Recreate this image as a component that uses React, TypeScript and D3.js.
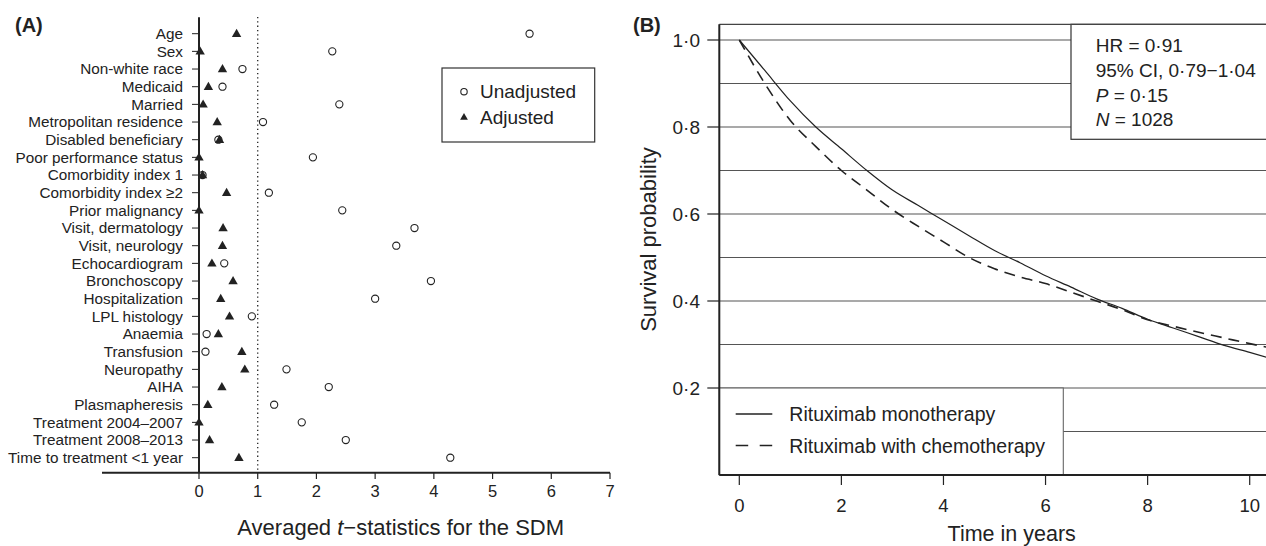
import React from 'react';
import * as d3 from 'd3';

// Panel A: balance diagnostics
const categories = [
  'Age', 'Sex', 'Non-white race', 'Medicaid', 'Married', 'Metropolitan residence',
  'Disabled beneficiary', 'Poor performance status', 'Comorbidity index 1',
  'Comorbidity index \u22652', 'Prior malignancy', 'Visit, dermatology', 'Visit, neurology',
  'Echocardiogram', 'Bronchoscopy', 'Hospitalization', 'LPL histology', 'Anaemia',
  'Transfusion', 'Neuropathy', 'AIHA', 'Plasmapheresis', 'Treatment 2004\u20132007',
  'Treatment 2008\u20132013', 'Time to treatment <1 year'
];
const unadjusted = [5.63, 2.27, 0.74, 0.40, 2.39, 1.09, 0.33, 1.94, 0.06, 1.19, 2.44, 3.67, 3.36,
  0.43, 3.95, 3.00, 0.90, 0.13, 0.11, 1.49, 2.21, 1.28, 1.75, 2.50, 4.28];
const adjusted = [0.64, 0.02, 0.40, 0.16, 0.07, 0.31, 0.35, 0.0, 0.06, 0.47, 0.0, 0.41, 0.40,
  0.22, 0.58, 0.37, 0.52, 0.33, 0.73, 0.78, 0.39, 0.15, 0.0, 0.18, 0.68];
const ticksA = [0, 1, 2, 3, 4, 5, 6, 7];

// Panel B: survival curves
const years = [0, 0.5, 1, 1.5, 2, 2.5, 3, 3.5, 4, 4.5, 5, 5.5, 6, 6.5, 7, 7.5, 8, 8.5, 9, 9.5, 10, 10.5];
const monotherapy = [1.0, 0.93, 0.86, 0.80, 0.75, 0.70, 0.655, 0.62, 0.585, 0.55, 0.516, 0.488,
  0.458, 0.432, 0.405, 0.383, 0.358, 0.338, 0.318, 0.298, 0.282, 0.265];
const chemotherapy = [1.0, 0.90, 0.815, 0.755, 0.70, 0.655, 0.61, 0.572, 0.536, 0.50, 0.474, 0.455,
  0.44, 0.42, 0.40, 0.38, 0.357, 0.342, 0.328, 0.315, 0.302, 0.29];
const ticksBx = [0, 2, 4, 6, 8, 10];
const ticksBy = [0.2, 0.4, 0.6, 0.8, 1.0];
const gridBy = [0.1, 0.2, 0.3, 0.4, 0.5, 0.6, 0.7, 0.8, 0.9, 1.0];
const statLines = ['HR = 0\u00b791', '95% CI, 0\u00b779\u22121\u00b704', 'P = 0\u00b715', 'N = 1028'];

const INK = '#222';
const FONT = '"Liberation Sans", Arial, sans-serif';
const fmt = (v: number) => v.toFixed(1).replace('.', '\u00b7');

export default function App() {
  // panel A scales
  const xA = d3.scaleLinear().domain([0, 7]).range([199, 610]);
  const yA = d3.scalePoint<string>().domain(categories).range([33.7, 457.7]);
  const tri = d3.symbol(d3.symbolTriangle, 38)();
  const triSmall = d3.symbol(d3.symbolTriangle, 26)();

  // panel B scales
  const xB = d3.scaleLinear().domain([0, 10]).range([739.3, 1249.7]);
  const yB = d3.scaleLinear().domain([0, 1]).range([475, 40]);
  const boxL = 719.3, boxT = yB(1.036), boxB = yB(0), boxR = 1290;
  const line = d3.line<number>().x((_, i) => xB(years[i])).y((d) => yB(d)).curve(d3.curveMonotoneX);

  return (
    <svg width={1266} height={546} style={{ position: 'absolute', left: 0, top: 0, background: '#fff' }}
      fontFamily={FONT}>
      {/* ---------- Panel A ---------- */}
      <text x={15} y={31.5} fontSize={20} fontWeight="bold" fill={INK}>(A)</text>
      <line x1={xA(1)} x2={xA(1)} y1={17} y2={472} stroke={INK} strokeWidth={1.3} strokeDasharray="1.3,3" />
      {categories.map((c) => (
        <g key={c}>
          <line x1={192} x2={xA(0)} y1={yA(c)} y2={yA(c)} stroke={INK} strokeWidth={1} />
          <text x={183} y={(yA(c) as number) + 5.4} fontSize={15.3} textAnchor="end" fill={INK}>{c}</text>
        </g>
      ))}
      <line x1={xA(0)} x2={xA(0)} y1={17.3} y2={472.7} stroke={INK} strokeWidth={2} />
      <line x1={102} x2={xA(7)} y1={472.7} y2={472.7} stroke={INK} strokeWidth={2} />
      {ticksA.map((t) => (
        <g key={t}>
          <line x1={xA(t)} x2={xA(t)} y1={472.7} y2={479} stroke={INK} strokeWidth={1.2} />
          <text x={xA(t)} y={496.5} fontSize={16.5} textAnchor="middle" fill={INK}>{t}</text>
        </g>
      ))}
      <text x={400.7} y={535} fontSize={22} textAnchor="middle" fill={INK}>
        Averaged <tspan fontStyle="italic">t</tspan>{'\u2212statistics for the SDM'}
      </text>
      {categories.map((c, i) => (
        <circle key={'u' + c} cx={xA(unadjusted[i])} cy={yA(c)} r={3.6} fill="none" stroke={INK} strokeWidth={1.1} />
      ))}
      {categories.map((c, i) => (
        <path key={'a' + c} d={tri as string} transform={`translate(${xA(adjusted[i])},${(yA(c) as number) + 0.5})`} fill={INK} />
      ))}
      <rect x={442} y={68} width={152.7} height={74} fill="#fff" stroke="#333" strokeWidth={1.2} />
      <circle cx={464} cy={91.7} r={3.2} fill="none" stroke={INK} strokeWidth={1.1} />
      <text x={480} y={98.3} fontSize={19} fill={INK}>Unadjusted</text>
      <path d={triSmall as string} transform="translate(464,117.5)" fill={INK} />
      <text x={480} y={124} fontSize={19} fill={INK}>Adjusted</text>

      {/* ---------- Panel B ---------- */}
      <text x={633} y={32} fontSize={20} fontWeight="bold" fill={INK}>(B)</text>
      {gridBy.map((g) => (
        <line key={g} x1={boxL} x2={boxR} y1={yB(g)} y2={yB(g)} stroke="#555" strokeWidth={1.1} />
      ))}
      <path d={line(monotherapy) as string} fill="none" stroke={INK} strokeWidth={1.2} />
      <path d={line(chemotherapy) as string} fill="none" stroke={INK} strokeWidth={1.6} strokeDasharray="11,7" />
      {/* stats box */}
      <rect x={1071} y={boxT} width={220} height={139.3 - boxT} fill="#fff" stroke="#333" strokeWidth={1.2} />
      {statLines.map((s, i) => {
        const yy = 52.3 + i * 24.6;
        if (s.startsWith('P') || s.startsWith('N')) {
          return (
            <text key={s} x={1095.7} y={yy} fontSize={19} fill={INK}>
              <tspan fontStyle="italic">{s[0]}</tspan>{s.slice(1)}
            </text>
          );
        }
        return <text key={s} x={1095.7} y={yy} fontSize={19} fill={INK}>{s}</text>;
      })}
      {/* legend box */}
      <rect x={boxL} y={yB(0.2)} width={1063.3 - boxL} height={boxB - yB(0.2)} fill="#fff" stroke="#666" strokeWidth={1.1} />
      <line x1={735.7} x2={772.3} y1={414} y2={414} stroke={INK} strokeWidth={1.6} />
      <text x={789.3} y={420.7} fontSize={19.5} fill={INK}>Rituximab monotherapy</text>
      <line x1={735.7} x2={772.3} y1={445.5} y2={445.5} stroke={INK} strokeWidth={1.6} strokeDasharray="12.5,11.5" />
      <text x={789.3} y={452.5} fontSize={19.5} fill={INK}>Rituximab with chemotherapy</text>
      {/* box frame */}
      <line x1={boxL} x2={boxR} y1={boxT} y2={boxT} stroke="#444" strokeWidth={1.3} />
      <line x1={boxL} x2={boxL} y1={boxT} y2={boxB} stroke={INK} strokeWidth={2} />
      <line x1={boxL} x2={boxR} y1={boxB} y2={boxB} stroke={INK} strokeWidth={2} />
      {ticksBy.map((t) => (
        <g key={t}>
          <line x1={707.3} x2={boxL} y1={yB(t)} y2={yB(t)} stroke={INK} strokeWidth={1.2} />
          <text x={700} y={yB(t) + 6.8} fontSize={19} textAnchor="end" fill={INK}>{fmt(t)}</text>
        </g>
      ))}
      {ticksBx.map((t) => (
        <g key={t}>
          <line x1={xB(t)} x2={xB(t)} y1={boxB} y2={485} stroke={INK} strokeWidth={1.2} />
          <text x={xB(t)} y={511.7} fontSize={18.5} textAnchor="middle" fill={INK}>{t}</text>
        </g>
      ))}
      <text x={1011.7} y={540.5} fontSize={21.5} textAnchor="middle" fill={INK}>Time in years</text>
      <text transform="translate(655.5,239.5) rotate(-90)" fontSize={22} textAnchor="middle" fill={INK}>
        Survival probability
      </text>
    </svg>
  );
}
